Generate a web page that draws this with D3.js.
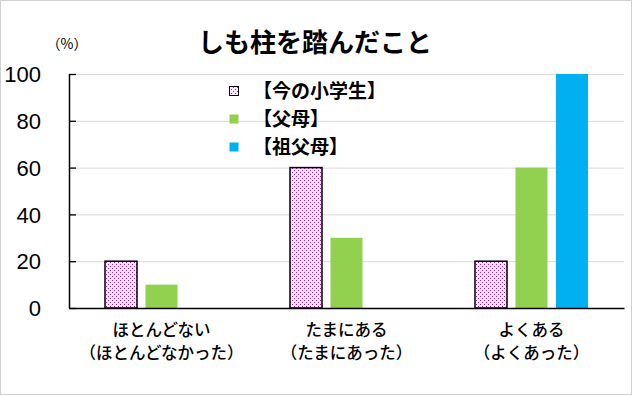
<!DOCTYPE html>
<html><head><meta charset="utf-8">
<script src="https://cdn.jsdelivr.net/npm/d3@7"></script>
<style>html,body{margin:0;padding:0;background:#fff;}</style>
</head><body>
<script>
const categories = [["ほとんどない","（ほとんどなかった）"],["たまにある","（たまにあった）"],["よくある","（よくあった）"]];
const seriesNames = ["【今の小学生】","【父母】","【祖父母】"];
const childValues = [20, 60, 20];
const parentValues = [10, 30, 60];
const grandValues = [0, 0, 100];
const yTicks = [0, 20, 40, 60, 80, 100];
const title = "しも柱を踏んだこと";
const unitLabel = "（%）";

const W = 633, H = 396;
const svg = d3.select("body").append("svg").attr("width", W).attr("height", H);
const jp = "'Noto Sans CJK JP', sans-serif";

const defs = svg.append("defs");
const pat = defs.append("pattern").attr("id","dots").attr("patternUnits","userSpaceOnUse")
  .attr("width",4).attr("height",4);
pat.append("rect").attr("width",4).attr("height",4).attr("fill","#fde6fd");
pat.append("rect").attr("x",0).attr("y",0).attr("width",1).attr("height",1).attr("fill","#9b2aa0");
pat.append("rect").attr("x",2).attr("y",2).attr("width",1).attr("height",1).attr("fill","#9b2aa0");

svg.append("rect").attr("x",0.5).attr("y",0.5).attr("width",W-2).attr("height",H-2)
  .attr("fill","#fff").attr("stroke","#d0d0d0");

const x0 = 69, x1 = 624, yTop = 74, yBot = 308;
const x = d3.scaleBand().domain(d3.range(categories.length)).range([x0, x1]).padding(0);
const y = d3.scaleLinear().domain([0, 100]).range([yBot, yTop]);

// gridlines
svg.append("g").selectAll("line").data(yTicks.filter(t=>t>0)).join("line")
  .attr("x1",x0).attr("x2",x1).attr("y1",d=>y(d)+0.5).attr("y2",d=>y(d)+0.5)
  .attr("stroke","#d9d9d9").attr("stroke-width",1);

const series = [
  {name: seriesNames[0], values: childValues, fill: "url(#dots)", stroke: "#000"},
  {name: seriesNames[1], values: parentValues, fill: "#92d050", stroke: "none"},
  {name: seriesNames[2], values: grandValues, fill: "#00b0f0", stroke: "none"}
];
const barW = 32, gap = 8.5;
const groupW = series.length*barW + (series.length-1)*gap;
series.forEach((s, si) => {
  svg.append("g").selectAll("rect").data(s.values.map((v,i)=>({v,i}))).join("rect")
    .filter(d=>d.v>0)
    .attr("x", d => x(d.i) + x.bandwidth()/2 - groupW/2 + si*(barW+gap))
    .attr("y", d => y(d.v))
    .attr("width", barW)
    .attr("height", d => yBot - y(d.v))
    .attr("fill", s.fill)
    .attr("stroke", s.stroke)
    .attr("stroke-width", s.stroke === "none" ? 0 : 1.5);
});

// y axis
const yAxis = d3.axisLeft(y).tickValues(yTicks).tickSize(-7).tickPadding(28).tickFormat(d3.format("d"));
const gy = svg.append("g").attr("transform", `translate(${x0},0)`).call(yAxis);
gy.select(".domain").attr("stroke","#000").attr("stroke-width",1.5).attr("d", `M0.5,${yTop}V${yBot}`);
gy.selectAll(".tick line").attr("stroke","#000").attr("stroke-width",1.3);
gy.selectAll(".tick text").attr("font-family","'Liberation Sans', Arial, sans-serif")
  .attr("font-size",22).attr("fill","#000").attr("dy","0.35em");

// x axis
const xAxis = d3.axisBottom(x).tickSize(0).tickFormat("");
const gx = svg.append("g").attr("transform", `translate(0,${yBot})`).call(xAxis);
gx.select(".domain").attr("stroke","#000").attr("stroke-width",1.5);
const lbl = svg.append("g").selectAll("text").data(categories.map((c,i)=>({c,i}))).join("text")
  .attr("font-family", jp).attr("font-size",16.5).attr("font-weight",500).attr("text-anchor","middle").attr("fill","#000");
lbl.append("tspan").attr("x",d=>x(d.i)+x.bandwidth()/2).attr("y",336).text(d=>d.c[0]);
lbl.append("tspan").attr("x",d=>x(d.i)+x.bandwidth()/2).attr("y",359).text(d=>d.c[1]);

// title
svg.append("text").attr("x",315).attr("y",52).attr("text-anchor","middle")
  .attr("font-family",jp).attr("font-weight","bold").attr("font-size",26).attr("fill","#000").text(title);
svg.append("text").attr("x",67).attr("y",49).attr("text-anchor","middle")
  .attr("font-family",jp).attr("font-size",14).attr("fill","#000").text(unitLabel);

// legend
const lg = svg.append("g").selectAll("g").data(series).join("g")
  .attr("transform",(d,i)=>`translate(229,${91 + i*28})`);
lg.append("rect").attr("x",0.5).attr("y",-4.5).attr("width",9).attr("height",9)
  .attr("fill",d=>d.fill).attr("stroke",d=>d.stroke==="none"?"none":"#000").attr("stroke-width",1);
lg.append("text").attr("x",24).attr("y",0).attr("dy","0.36em")
  .attr("font-family",jp).attr("font-weight","bold").attr("font-size",19).attr("fill","#000").text(d=>d.name);
</script>
</body></html>
